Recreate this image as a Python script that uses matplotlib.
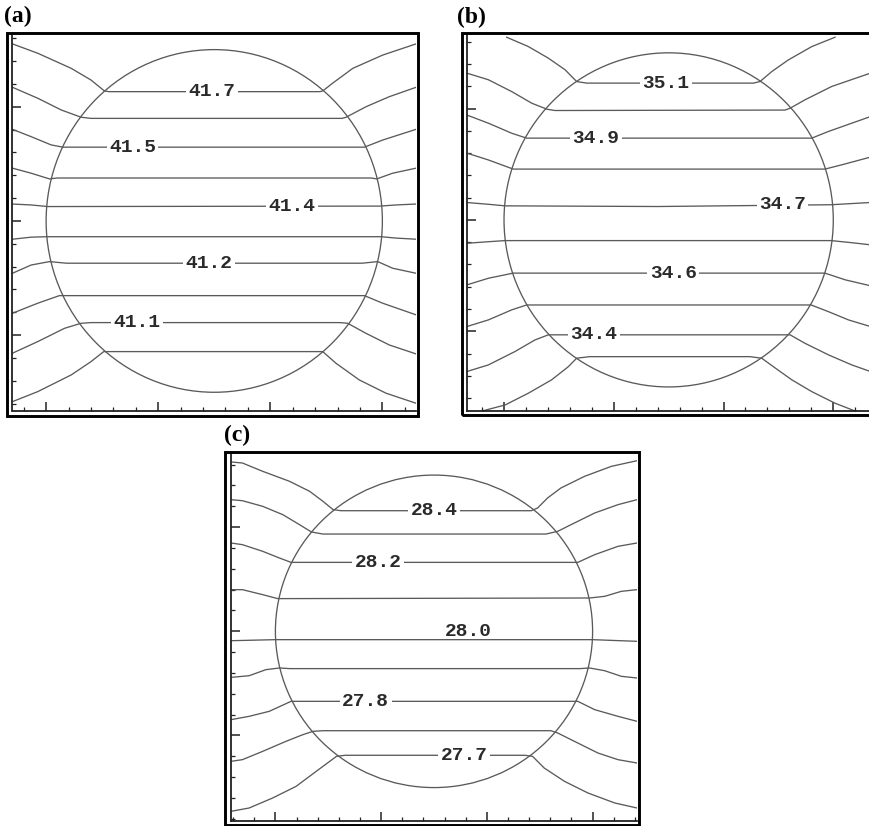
import matplotlib.pyplot as plt
from matplotlib.patches import Circle, Rectangle
from matplotlib.ticker import MultipleLocator

# cylinder cross-section (mm), same in all three cases
CENTER = (7.5, 0.0)
RADIUS = 7.5

# isotherms, case (a): vertices left edge -> right edge
A_LINES = [
    [(-1.5, 7.75), (-0.37, 7.34), (1.12, 6.68), (2.0, 6.17), (2.6, 5.69), (2.8, 5.66), (12.2, 5.66),
     (12.34, 5.69), (12.78, 6.03), (13.68, 6.68), (15.01, 7.26), (16.5, 7.75)],
    [(-1.5, 5.85), (-0.37, 5.37), (0.67, 4.86), (1.56, 4.54), (2.0, 4.49), (13.2, 4.49), (13.38, 4.54),
     (14.27, 5.0), (15.31, 5.44), (16.5, 5.85)],
    [(-1.5, 4.01), (-0.67, 3.69), (0.22, 3.33), (0.74, 3.23), (14.2, 3.23), (15.01, 3.54), (16.5, 4.01)],
    [(-1.5, 2.31), (-0.67, 2.09), (0.15, 1.84), (0.5, 1.88), (14.5, 1.88), (14.75, 1.84), (15.46, 2.09),
     (16.5, 2.31)],
    [(-1.5, 0.74), (-0.67, 0.70), (0.07, 0.63), (14.9, 0.65), (15.6, 0.70), (16.5, 0.74)],
    [(-1.5, -0.80), (-0.67, -0.71), (0.05, -0.69), (14.94, -0.69), (15.6, -0.75), (16.5, -0.80)],
    [(-1.5, -2.29), (-0.67, -1.93), (0.15, -1.78), (0.9, -1.85), (14.1, -1.85), (14.79, -1.78),
     (15.46, -2.07), (16.5, -2.29)],
    [(-1.5, -4.04), (-0.37, -3.6), (0.59, -3.27), (14.2, -3.27), (15.01, -3.6), (16.5, -4.11)],
    [(-1.5, -5.79), (-0.37, -5.28), (0.82, -4.70), (1.56, -4.48), (2.0, -4.45), (13.1, -4.45),
     (13.45, -4.48), (14.27, -4.92), (15.31, -5.43), (16.5, -5.82)],
    [(-1.5, -7.91), (-0.37, -7.47), (1.12, -6.74), (2.0, -6.16), (2.57, -5.72), (12.34, -5.72),
     (12.93, -6.23), (13.97, -6.96), (15.16, -7.54), (16.5, -7.98)],
]
A_LABELS = [("41.7", 7.4, 5.66), ("41.5", 3.86, 3.23), ("41.4", 10.97, 0.65),
            ("41.2", 7.28, -1.85), ("41.1", 4.04, -4.45)]

# case (b)
B_LINES = [
    [(0.12, 8.2), (1.11, 7.78), (2.02, 7.26), (2.78, 6.74), (3.31, 6.21), (3.77, 6.14), (11.36, 6.14),
     (11.66, 6.21), (12.2, 6.66), (12.95, 7.18), (14.02, 7.78), (15.08, 8.2)],
    [(-1.7, 6.59), (-0.71, 6.29), (0.35, 5.76), (1.26, 5.24), (1.95, 4.97), (2.32, 4.91), (12.8, 4.93),
     (13.03, 5.01), (13.71, 5.39), (14.93, 5.99), (16.7, 6.59)],
    [(-1.7, 4.71), (-0.71, 4.34), (0.35, 3.89), (1.03, 3.67), (14.02, 3.67), (14.78, 3.97), (16.7, 4.64)],
    [(-1.7, 3.0), (-0.71, 2.69), (0.42, 2.28), (14.62, 2.28), (15.38, 2.47), (16.7, 2.82)],
    [(-1.7, 0.78), (-0.71, 0.70), (0.05, 0.63), (7.0, 0.60), (14.9, 0.68), (16.7, 0.78)],
    [(-1.7, -1.05), (-0.71, -0.98), (0.05, -0.93), (14.9, -0.93), (15.8, -1.02), (16.7, -1.12)],
    [(-1.7, -2.92), (-0.71, -2.62), (0.42, -2.39), (14.62, -2.39), (15.54, -2.69), (16.7, -2.96)],
    [(-1.7, -4.79), (-0.71, -4.49), (0.35, -4.04), (1.03, -3.82), (13.99, -3.82), (14.78, -4.12),
     (15.69, -4.49), (16.7, -4.79)],
    [(-1.7, -6.81), (-0.71, -6.51), (0.5, -5.91), (1.41, -5.39), (2.02, -5.16), (13.03, -5.16),
     (13.71, -5.54), (14.78, -6.06), (15.84, -6.51), (16.7, -6.81)],
    [(-1.0, -8.58), (0.05, -8.31), (1.11, -7.78), (2.17, -7.18), (2.93, -6.59), (3.31, -6.21),
     (3.9, -6.14), (11.2, -6.14), (11.74, -6.21), (12.27, -6.59), (13.11, -7.18), (14.02, -7.71),
     (15.08, -8.23), (15.99, -8.58)],
]
B_LABELS = [("35.1", 7.37, 6.14), ("34.9", 4.18, 3.67), ("34.7", 12.68, 0.67),
            ("34.6", 7.71, -2.39), ("34.4", 4.1, -5.16)]

# case (c)
C_LINES = [
    [(-2.1, 8.13), (-1.56, 8.08), (-0.6, 7.68), (0.67, 7.2), (1.62, 6.72), (2.25, 6.24), (2.73, 5.84),
     (3.1, 5.79), (12.1, 5.79), (12.4, 5.92), (12.87, 6.4), (13.5, 6.88), (14.62, 7.44), (15.89, 7.92),
     (17.1, 8.19)],
    [(-2.1, 6.32), (-1.56, 6.27), (-0.6, 6.0), (0.35, 5.6), (1.14, 5.12), (1.7, 4.77), (2.25, 4.67),
     (12.8, 4.67), (13.35, 4.8), (13.98, 5.12), (15.1, 5.68), (16.2, 6.08), (17.1, 6.32)],
    [(-2.1, 4.24), (-1.56, 4.16), (-0.6, 3.84), (0.19, 3.52), (0.74, 3.31), (14.3, 3.31), (15.1, 3.68),
     (16.2, 4.08), (17.1, 4.24)],
    [(-2.1, 2.0), (-1.56, 2.0), (-0.6, 1.76), (0.11, 1.57), (14.86, 1.6), (15.57, 1.68), (16.36, 1.92),
     (17.1, 2.0)],
    [(-2.1, -0.45), (0.0, -0.40), (15.0, -0.40), (17.1, -0.48)],
    [(-2.1, -2.21), (-1.24, -2.13), (-0.45, -1.84), (0.19, -1.76), (0.7, -1.79), (14.4, -1.79),
     (14.86, -1.76), (15.57, -1.89), (16.36, -2.16), (17.1, -2.24)],
    [(-2.1, -4.24), (-1.24, -4.08), (-0.29, -3.84), (0.74, -3.36), (14.3, -3.36), (15.1, -3.76),
     (16.2, -4.08), (17.1, -4.32)],
    [(-2.1, -6.24), (-1.56, -6.16), (-0.6, -5.76), (0.5, -5.28), (1.3, -4.96), (1.78, -4.8),
     (2.25, -4.77), (13.03, -4.77), (13.35, -4.88), (14.14, -5.28), (15.25, -5.84), (16.2, -6.16),
     (17.1, -6.32)],
    [(-2.1, -8.64), (-1.24, -8.48), (-0.13, -8.0), (0.98, -7.44), (1.93, -6.72), (2.57, -6.24),
     (2.89, -6.0), (3.3, -5.95), (11.8, -5.95), (12.16, -6.0), (12.71, -6.56), (13.67, -7.2),
     (14.78, -7.76), (16.05, -8.24), (17.1, -8.48)],
]
C_LABELS = [("28.4", 7.5, 5.79), ("28.2", 4.86, 3.31), ("28.0", 9.14, 0.0),
            ("27.8", 4.27, -3.36), ("27.7", 8.93, -5.95)]
C_LABEL_ON_LINE = [True, True, False, True, True]

W, H = 870, 826
LINE_COLOR = "#5a5a5a"


def fig_box(l, t, r, b):
    # pixel box (left, top, right, bottom) -> figure fraction
    return [l / W, 1 - b / H, (r - l) / W, (b - t) / H]


def draw_panel(fig, tag, lines, labels, on_line, ax_px, frame_px, xlim, ylim, tag_xy):
    ax = fig.add_axes(fig_box(*ax_px))
    ax.set_xlim(*xlim)
    ax.set_ylim(*ylim)

    for pts in lines:
        xs = [p[0] for p in pts]
        ys = [p[1] for p in pts]
        ax.plot(xs, ys, color=LINE_COLOR, lw=0.95)

    ax.add_patch(Circle(CENTER, RADIUS, fill=False, ec=LINE_COLOR, lw=0.95))

    for (txt, x, y), gap in zip(labels, on_line):
        box = dict(boxstyle="square,pad=0.12", fc="white", ec="none") if gap else None
        ax.text(x, y, txt, ha="center", va="center", family="Liberation Mono",
                fontweight="bold", fontsize=14, color="#2a2a2a", zorder=5, bbox=box)

    ax.xaxis.set_major_locator(MultipleLocator(5))
    ax.xaxis.set_minor_locator(MultipleLocator(1))
    ax.yaxis.set_major_locator(MultipleLocator(5))
    ax.yaxis.set_minor_locator(MultipleLocator(1))
    ax.tick_params(which="both", direction="in", top=False, right=False,
                   labelleft=False, labelbottom=False, color="#222222")
    ax.tick_params(which="major", length=6.5, width=1.1)
    ax.tick_params(which="minor", length=3, width=0.9)
    for s in ("top", "right"):
        ax.spines[s].set_visible(False)
    for s in ("left", "bottom"):
        ax.spines[s].set_linewidth(1.3)
        ax.spines[s].set_color("#222222")

    l, t, r, b = frame_px
    fig.add_artist(Rectangle((l / W, 1 - b / H), (r - l) / W, (b - t) / H,
                             transform=fig.transFigure, fill=False, ec="black", lw=2.1))
    fig.text(tag_xy[0] / W, 1 - tag_xy[1] / H, tag, ha="left", va="center",
             family="Liberation Serif", fontweight="bold", fontsize=17)


fig = plt.figure(figsize=(W / 100, H / 100), dpi=100)

draw_panel(fig, "(a)", A_LINES, A_LABELS, [True] * 5,
           (12.5, 35, 416, 411), (7, 33, 418, 416), (-1.5, 16.5), (-8.32, 8.14), (4, 16))
draw_panel(fig, "(b)", B_LINES, B_LABELS, [True] * 5,
           (466.7, 35, 870.6, 411), (462, 33, 876, 415), (-1.7, 16.7), (-8.58, 8.3), (457, 17))
draw_panel(fig, "(c)", C_LINES, C_LABELS, C_LABEL_ON_LINE,
           (231, 453, 637, 820.7), (225.5, 451.5, 639, 825), (-2.1, 17.1), (-9.09, 8.56), (224, 435))

fig.savefig("out.png", dpi=100)
